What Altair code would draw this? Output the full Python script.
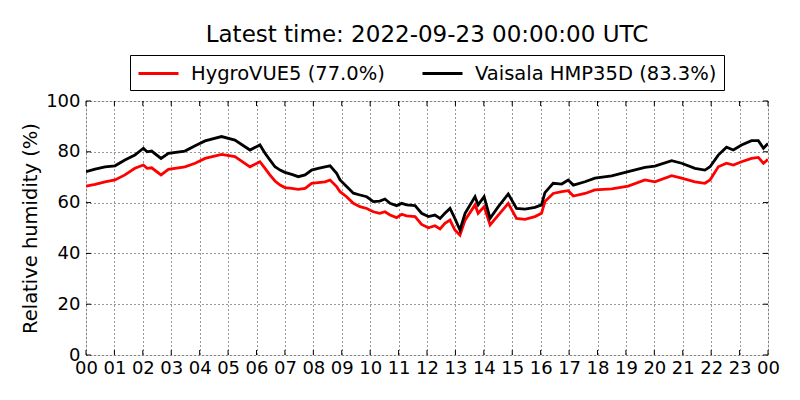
import altair as alt
import pandas as pd

series_names = ["HygroVUE5 (77.0%)", "Vaisala HMP35D (83.3%)"]
series_colors = ["#ff0000", "#000000"]

hours = [0.0, 0.32, 0.67, 1.02, 1.37, 1.72, 2.02, 2.15, 2.31, 2.64, 2.9, 3.48, 3.84, 4.19, 4.77,
         5.24, 5.77, 6.12, 6.30, 6.47, 6.65, 6.83, 7.0, 7.24, 7.47, 7.71, 7.94, 8.17, 8.41, 8.59,
         8.82, 8.94, 9.17, 9.41, 9.64, 9.88, 10.11, 10.34, 10.52, 10.70, 10.93, 11.11, 11.28,
         11.58, 11.81, 12.05, 12.28, 12.46, 12.63, 12.81, 12.98,
         13.16, 13.34, 13.69, 13.80, 14.01, 14.22, 14.51, 14.86, 15.15, 15.45, 15.80, 16.03,
         16.15, 16.44, 16.74, 16.97, 17.15, 17.56, 17.91, 18.50, 19.08, 19.67, 20.02, 20.61,
         20.96, 21.43, 21.78, 21.96, 22.25, 22.54, 22.78, 23.07, 23.42, 23.66, 23.84, 24.0]

hygrovue = [66.5, 67.2, 68.2, 68.9, 70.9, 73.5, 74.8, 73.5, 73.7, 70.9, 73.1, 74.1, 75.5, 77.4, 79.0,
            78.1, 74.1, 76.1, 73.5, 70.9, 68.5, 66.9, 65.9, 65.6, 65.2, 65.6, 67.6, 67.9, 68.2, 68.9,
            66.3, 64.3, 62.3, 59.7, 58.4, 57.7, 56.4, 55.8, 56.4, 55.1, 54.1, 55.4, 54.8,
            54.5, 51.4, 50.1, 50.9, 49.6, 51.8, 53.1, 49.2,
            47.2, 53.1, 59.1, 55.8, 58.4, 51.2, 55.1, 59.7, 53.8, 53.4, 54.5, 55.8,
            60.4, 63.6, 64.3, 64.7, 62.6, 63.6, 65.0, 65.4, 66.5, 68.9, 68.2, 70.6,
            69.6, 68.2, 67.6, 68.9, 74.1, 75.5, 74.8, 76.1, 77.4, 77.8, 75.5, 77.0]

hmp35d = [72.2, 73.2, 74.1, 74.5, 76.8, 78.7, 81.4, 80.0, 80.3, 77.4, 79.4, 80.3, 82.4, 84.3, 86.0,
          84.6, 80.7, 82.7, 79.4, 76.8, 74.1, 72.8, 71.9, 71.1, 70.2, 70.9, 72.8, 73.5, 74.1, 74.5,
          71.5, 68.9, 66.3, 63.7, 63.0, 62.3, 60.4, 60.6, 61.4, 59.7, 58.8, 59.7, 59.1,
          58.8, 55.8, 54.5, 55.1, 53.8, 55.8, 57.7, 53.8,
          49.2, 55.8, 62.3, 59.1, 62.3, 53.8, 58.4, 63.4, 57.7, 57.4, 58.1, 59.1,
          63.9, 67.6, 67.3, 68.9, 66.9, 68.2, 69.6, 70.5, 72.2, 73.9, 74.4, 76.5,
          75.5, 73.5, 72.8, 74.1, 78.7, 81.8, 80.7, 82.7, 84.4, 84.4, 81.4, 83.3]

x_ticks = list(range(0, 25))
y_ticks = [0, 20, 40, 60, 80, 100]

df = pd.DataFrame({
    "hour": hours + hours,
    "rh": hygrovue + hmp35d,
    "series": [series_names[0]] * len(hours) + [series_names[1]] * len(hours),
})
xt = pd.DataFrame({"hour": x_ticks})
yt = pd.DataFrame({"rh": y_ticks})

FONT = "DejaVu Sans"
W, H = 682, 254

xscale = alt.Scale(domain=[0, 24], nice=False, zero=False)
yscale = alt.Scale(domain=[0, 100], nice=False)

xaxis = alt.Axis(values=x_ticks, title=None, grid=True, ticks=False, domain=False,
                 labelExpr="(datum.value % 24) < 10 ? '0' + (datum.value % 24) : '' + (datum.value % 24)",
                 labelFontSize=18, labelFont=FONT, labelColor="black", labelPadding=4,
                 labelFlush=False, labelOverlap=False, labelSeparation=0,
                 gridColor="black", gridDash=[1, 3], gridWidth=1, gridOpacity=0.8)
yaxis = alt.Axis(values=y_ticks, title="Relative humidity (%)", grid=True, ticks=False,
                 domain=False, labelFontSize=18, labelFont=FONT, labelColor="black",
                 labelPadding=6, labelOverlap=False, titleFont=FONT, titleFontSize=19.5,
                 titleFontWeight="normal", titleColor="black", titlePadding=5,
                 gridColor="black", gridDash=[1, 3], gridWidth=1, gridOpacity=0.8)

lines = alt.Chart(df).mark_line(strokeWidth=2.8, clip=True).encode(
    x=alt.X("hour:Q", scale=xscale, axis=xaxis),
    y=alt.Y("rh:Q", scale=yscale, axis=yaxis),
    color=alt.Color("series:N",
                    scale=alt.Scale(domain=series_names, range=series_colors),
                    legend=alt.Legend(title=None, orient="none", legendX=44, legendY=-46,
                                      direction="horizontal", symbolType="M-2,0L2,0",
                                      symbolSize=400, symbolStrokeWidth=2.8, symbolOffset=10,
                                      labelFont=FONT, labelFontSize=19.5, labelColor="black",
                                      labelOffset=21, columnPadding=31, padding=7,
                                      strokeColor="black", fillColor="white",
                                      labelLimit=400)),
    order=alt.Order("series:N"),
)

tick_len = 5
bottom_ticks = alt.Chart(xt).mark_rule(color="black", strokeWidth=1).encode(
    x=alt.X("hour:Q", scale=xscale, axis=xaxis), y=alt.value(H), y2=alt.value(H - tick_len))
top_ticks = alt.Chart(xt).mark_rule(color="black", strokeWidth=1).encode(
    x=alt.X("hour:Q", scale=xscale, axis=xaxis), y=alt.value(0), y2=alt.value(tick_len))
left_ticks = alt.Chart(yt).mark_rule(color="black", strokeWidth=1).encode(
    y=alt.Y("rh:Q", scale=yscale, axis=yaxis), x=alt.value(0), x2=alt.value(tick_len))
right_ticks = alt.Chart(yt).mark_rule(color="black", strokeWidth=1).encode(
    y=alt.Y("rh:Q", scale=yscale, axis=yaxis), x=alt.value(W), x2=alt.value(W - tick_len))

chart = alt.layer(lines, bottom_ticks, top_ticks, left_ticks, right_ticks).properties(
    width=W, height=H,
    title=alt.TitleParams("Latest time: 2022-09-23 00:00:00 UTC", font=FONT, fontSize=23,
                          fontWeight="normal", color="black", anchor="middle", offset=8),
    autosize=alt.AutoSizeParams(type="none"),
    padding={"left": 78, "top": 93, "right": 24, "bottom": 37},
).configure_view(stroke="black", strokeWidth=1).configure(background="white")

chart.save("out.html", embed_options={"renderer": "svg", "actions": False})
